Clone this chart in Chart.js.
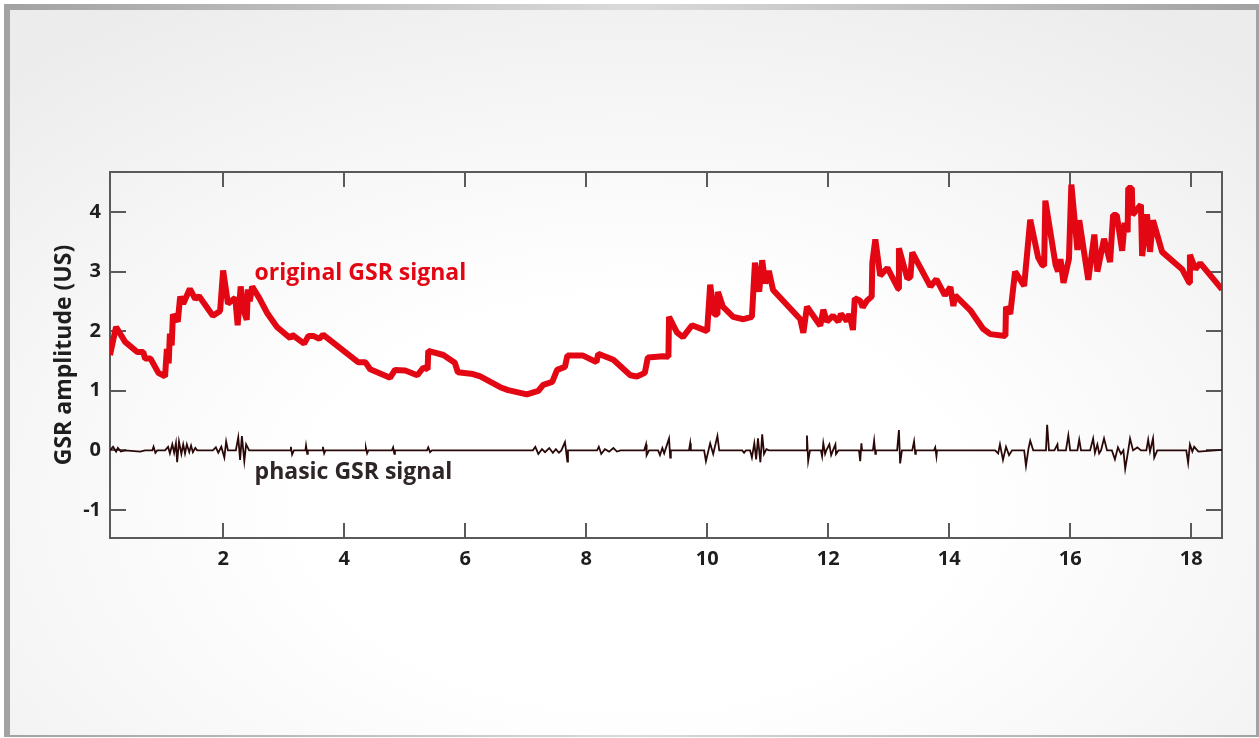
<!DOCTYPE html>
<html lang="en">
<head>
    <meta charset="UTF-8">
    <title>GSR signal</title>
    <style>
        body {
            margin: 0;
            padding: 0;
            background: #ffffff;
            width: 1259px;
            height: 738px;
            overflow: hidden;
            position: relative;
            font-family: 'Open Sans', sans-serif;
        }

        .frame {
            position: absolute;
            left: 4px;
            top: 4px;
            width: 1255px;
            height: 733px;
            background: linear-gradient(to right, #a2a2a2, #dadada 50%, #a2a2a2);
        }

        .panel {
            position: absolute;
            left: 6px;
            top: 6px;
            right: 3px;
            bottom: 2px;
            background: radial-gradient(ellipse 75% 80% at 50% 68%, #ffffff 35%, #f7f7f7 65%, #ececec 100%);
        }

        canvas {
            position: absolute;
            left: 0;
            top: 0;
        }
    </style>
</head>
<body>
    <div class="frame"><div class="panel"></div></div>
    <canvas id="gsrChart" width="1259" height="738"></canvas>

    <script src="https://cdn.jsdelivr.net/npm/chart.js"></script>
    <script>
        // original GSR signal (time in s, amplitude in uS)
        const gsrTime = [
            0.13, 0.23, 0.38, 0.58, 0.68, 0.71, 0.80, 0.93, 1.04, 1.07, 1.10, 1.12, 1.15, 1.17, 1.25, 1.29,
            1.34, 1.45, 1.54, 1.60, 1.83, 1.95, 2.00, 2.08, 2.20, 2.24, 2.29, 2.34, 2.39, 2.41, 2.44, 2.48,
            2.60, 2.73, 2.89, 3.11, 3.14, 3.34, 3.41, 3.49, 3.59, 3.65, 4.23, 4.35, 4.43, 4.76, 4.84, 5.01,
            5.21, 5.31, 5.38, 5.39, 5.64, 5.83, 5.88, 6.13, 6.25, 6.58, 6.71, 7.02, 7.21, 7.29, 7.44, 7.52,
            7.65, 7.69, 7.95, 8.17, 8.20, 8.45, 8.73, 8.84, 8.97, 9.02, 9.27, 9.36, 9.37, 9.50, 9.60, 9.75,
            10.00, 10.05, 10.12, 10.17, 10.18, 10.26, 10.43, 10.60, 10.74, 10.79, 10.86, 10.91, 10.96, 11.02, 11.09, 11.54,
            11.59, 11.65, 11.87, 11.92, 11.98, 12.08, 12.17, 12.21, 12.31, 12.35, 12.41, 12.44, 12.53, 12.57, 12.64, 12.72,
            12.73, 12.78, 12.86, 12.98, 13.16, 13.17, 13.31, 13.36, 13.39, 13.69, 13.79, 13.93, 14.02, 14.07, 14.10, 14.35,
            14.56, 14.68, 14.93, 14.94, 15.01, 15.09, 15.24, 15.34, 15.47, 15.54, 15.57, 15.59, 15.76, 15.80, 15.84, 15.89,
            15.98, 16.02, 16.12, 16.15, 16.30, 16.40, 16.45, 16.56, 16.66, 16.71, 16.77, 16.86, 16.90, 16.95, 16.96, 17.02,
            17.03, 17.17, 17.19, 17.27, 17.32, 17.37, 17.52, 17.85, 17.97, 17.98, 18.07, 18.15, 18.51
        ];
        const gsrValue = [
            1.60, 2.07, 1.82, 1.65, 1.65, 1.54, 1.54, 1.30, 1.24, 1.70, 1.46, 1.96, 1.76, 2.28, 2.16, 2.58,
            2.46, 2.71, 2.54, 2.59, 2.26, 2.34, 3.02, 2.46, 2.56, 2.10, 2.75, 2.34, 2.19, 2.70, 2.50, 2.75,
            2.55, 2.30, 2.07, 1.88, 1.94, 1.79, 1.92, 1.92, 1.87, 1.94, 1.48, 1.48, 1.36, 1.22, 1.35, 1.34,
            1.26, 1.39, 1.36, 1.67, 1.60, 1.47, 1.31, 1.28, 1.24, 1.06, 1.01, 0.94, 1.00, 1.10, 1.15, 1.35,
            1.40, 1.59, 1.59, 1.48, 1.62, 1.52, 1.26, 1.24, 1.30, 1.56, 1.58, 1.57, 2.24, 1.98, 1.90, 2.10,
            2.00, 2.78, 2.28, 2.28, 2.66, 2.41, 2.24, 2.20, 2.24, 3.15, 2.66, 3.19, 2.80, 3.01, 2.69, 2.20,
            1.97, 2.41, 2.09, 2.36, 2.16, 2.26, 2.16, 2.29, 2.17, 2.29, 2.02, 2.55, 2.51, 2.40, 2.51, 2.58,
            3.15, 3.54, 2.93, 3.06, 2.71, 3.39, 2.88, 2.91, 3.32, 2.75, 2.87, 2.60, 2.74, 2.42, 2.60, 2.35,
            2.04, 1.95, 1.92, 2.41, 2.29, 3.00, 2.76, 3.87, 3.24, 3.11, 3.10, 4.19, 3.11, 3.00, 3.21, 2.81,
            3.21, 4.46, 3.36, 3.86, 2.86, 3.62, 3.00, 3.55, 3.16, 3.95, 3.95, 3.35, 3.82, 3.66, 4.40, 4.40,
            3.95, 4.12, 3.26, 3.96, 3.33, 3.86, 3.33, 3.04, 2.81, 3.28, 3.04, 3.14, 2.70
        ];

        // phasic GSR signal
        const phasicTime = [
            0.13, 0.18, 0.23, 0.26, 0.31, 0.38, 0.63, 0.71, 0.83, 0.85, 0.88, 0.91, 1.04, 1.09, 1.12, 1.16,
            1.19, 1.22, 1.24, 1.27, 1.31, 1.34, 1.37, 1.40, 1.44, 1.47, 1.50, 1.54, 1.57, 1.83, 1.88, 1.92,
            1.97, 2.02, 2.05, 2.08, 2.21, 2.25, 2.28, 2.31, 2.35, 2.38, 2.43, 3.11, 3.12, 3.14, 3.17, 3.36,
            3.37, 3.39, 3.40, 3.64, 3.65, 3.67, 3.69, 4.35, 4.36, 4.38, 4.40, 4.79, 4.81, 4.83, 4.84, 5.37,
            5.39, 5.42, 5.45, 7.12, 7.16, 7.21, 7.27, 7.32, 7.39, 7.45, 7.50, 7.55, 7.59, 7.65, 7.69, 7.70,
            8.18, 8.21, 8.25, 8.31, 8.38, 8.45, 8.51, 8.57, 8.96, 8.99, 9.00, 9.04, 9.19, 9.22, 9.26, 9.29,
            9.37, 9.39, 9.40, 9.70, 9.72, 9.73, 9.95, 9.98, 10.05, 10.10, 10.17, 10.20, 10.58, 10.61, 10.64, 10.71,
            10.74, 10.78, 10.81, 10.84, 10.88, 10.91, 10.94, 10.98, 11.02, 11.64, 11.65, 11.67, 11.70, 11.88, 11.90, 11.92,
            11.95, 11.97, 12.02, 12.05, 12.08, 12.12, 12.13, 12.17, 12.51, 12.53, 12.55, 12.56, 12.74, 12.76, 12.78, 12.79,
            13.14, 13.17, 13.19, 13.22, 13.39, 13.42, 13.44, 13.45, 13.75, 13.77, 13.79, 13.80, 14.76, 14.81, 14.84, 14.89,
            14.94, 14.99, 15.04, 15.11, 15.24, 15.27, 15.31, 15.34, 15.39, 15.60, 15.62, 15.65, 15.74, 15.79, 15.80, 15.93,
            15.97, 16.00, 16.12, 16.15, 16.18, 16.33, 16.38, 16.41, 16.45, 16.48, 16.51, 16.56, 16.61, 16.69, 16.74, 16.79,
            16.84, 16.88, 16.91, 16.96, 16.99, 17.04, 17.11, 17.17, 17.26, 17.29, 17.32, 17.37, 17.39, 17.44, 17.92, 17.95,
            17.98, 18.02, 18.05, 18.12, 18.51
        ];
        const phasicValue = [
            0.00, 0.06, -0.02, 0.04, -0.02, 0.00, -0.02, 0.00, 0.00, 0.06, -0.04, 0.00, 0.00, 0.06, -0.05, 0.10,
            -0.04, 0.12, -0.20, 0.15, -0.06, 0.10, -0.05, 0.10, -0.03, 0.08, -0.03, 0.04, 0.00, 0.00, 0.05, -0.04,
            0.06, -0.12, 0.15, 0.00, 0.00, 0.22, -0.16, 0.24, -0.18, 0.10, 0.00, 0.00, 0.06, -0.07, 0.00, 0.00,
            0.08, -0.06, 0.00, 0.00, 0.06, -0.05, 0.00, 0.00, 0.04, -0.05, 0.00, 0.00, 0.05, -0.06, 0.00, 0.00,
            0.05, -0.03, 0.00, 0.00, 0.06, -0.06, 0.02, -0.03, 0.04, -0.04, 0.02, -0.04, 0.00, 0.14, -0.19, 0.00,
            0.00, 0.06, -0.06, 0.02, -0.02, 0.04, -0.02, 0.00, 0.00, 0.10, -0.08, 0.00, 0.00, -0.08, 0.04, -0.05,
            0.20, -0.12, 0.00, 0.00, 0.12, 0.00, 0.00, -0.18, 0.12, -0.06, 0.24, 0.00, 0.00, -0.04, 0.00, 0.00,
            -0.12, 0.12, -0.15, 0.20, -0.20, 0.27, -0.06, 0.02, 0.00, 0.00, 0.25, -0.18, 0.00, 0.00, -0.10, 0.12,
            -0.06, 0.00, 0.10, -0.08, 0.00, 0.10, -0.06, 0.00, 0.00, -0.18, 0.12, 0.00, 0.00, 0.16, -0.06, 0.00,
            0.00, 0.34, -0.22, 0.00, 0.00, 0.15, -0.06, 0.00, 0.00, 0.05, -0.10, 0.00, 0.00, -0.05, 0.10, -0.16,
            0.06, -0.08, 0.00, 0.00, 0.00, -0.26, 0.02, 0.16, 0.00, 0.00, 0.43, 0.00, 0.00, 0.10, 0.00, 0.00,
            0.25, 0.00, 0.00, 0.18, 0.00, 0.00, 0.20, -0.04, 0.10, -0.05, 0.00, 0.20, 0.00, 0.00, -0.15, 0.05,
            -0.06, 0.00, -0.31, 0.00, 0.20, 0.00, 0.05, 0.00, 0.00, 0.18, -0.02, 0.20, -0.12, 0.00, 0.00, -0.21,
            0.10, -0.02, 0.06, -0.02, 0.01
        ];

        const xTicks = [2, 4, 6, 8, 10, 12, 14, 16, 18];
        const yTicks = [-1, 0, 1, 2, 3, 4];

        const axisColor = '#5a5a5a';
        const textColor = '#1e1e1e';

        Chart.defaults.font.family = "'Open Sans', sans-serif";

        // box around the plot with inward tick marks
        const boxAxes = {
            id: 'boxAxes',
            beforeDatasetsDraw(chart) {
                const { ctx, chartArea: a, scales: { x, y } } = chart;
                ctx.save();
                ctx.strokeStyle = axisColor;
                ctx.lineWidth = 2;
                ctx.strokeRect(a.left, a.top, a.right - a.left, a.bottom - a.top);
                ctx.beginPath();
                xTicks.forEach(v => {
                    const px = Math.round(x.getPixelForValue(v));
                    ctx.moveTo(px, a.bottom); ctx.lineTo(px, a.bottom - 15);
                    ctx.moveTo(px, a.top); ctx.lineTo(px, a.top + 15);
                });
                yTicks.forEach(v => {
                    const py = Math.round(y.getPixelForValue(v));
                    ctx.moveTo(a.left, py); ctx.lineTo(a.left + 16, py);
                    ctx.moveTo(a.right, py); ctx.lineTo(a.right - 16, py);
                });
                ctx.stroke();
                ctx.restore();
            }
        };

        // in-plot labels for the two curves
        const curveLabels = {
            id: 'curveLabels',
            afterDatasetsDraw(chart) {
                const { ctx, scales: { x, y } } = chart;
                ctx.save();
                ctx.font = "bold 23px 'Open Sans', sans-serif";
                ctx.textAlign = 'left';
                ctx.textBaseline = 'middle';
                ctx.fillStyle = '#e30613';
                ctx.fillText('original GSR signal', x.getPixelForValue(2.52), y.getPixelForValue(2.97));
                ctx.fillStyle = '#2e2626';
                ctx.fillText('phasic GSR signal', x.getPixelForValue(2.52), y.getPixelForValue(-0.37));
                ctx.restore();
            }
        };

        new Chart(document.getElementById('gsrChart'), {
            type: 'line',
            data: {
                datasets: [{
                    label: 'phasic GSR signal',
                    data: phasicTime.map((t, i) => ({ x: t, y: phasicValue[i] })),
                    borderColor: '#2a0808',
                    borderWidth: 1.8,
                    pointRadius: 0,
                    tension: 0,
                    borderJoinStyle: 'miter'
                }, {
                    label: 'original GSR signal',
                    data: gsrTime.map((t, i) => ({ x: t, y: gsrValue[i] })),
                    borderColor: '#e30613',
                    borderWidth: 6,
                    pointRadius: 0,
                    tension: 0,
                    borderJoinStyle: 'bevel'
                }]
            },
            options: {
                responsive: false,
                animation: false,
                events: [],
                layout: {
                    padding: { left: 0, top: 172, right: 37, bottom: 0 }
                },
                plugins: {
                    legend: { display: false },
                    tooltip: { enabled: false }
                },
                scales: {
                    x: {
                        type: 'linear',
                        min: 0.13,
                        max: 18.51,
                        afterFit: s => { s.height = 200; },
                        afterBuildTicks: s => { s.ticks = xTicks.map(v => ({ value: v })); },
                        grid: { display: false, drawTicks: false },
                        border: { display: false },
                        ticks: {
                            padding: 9,
                            color: textColor,
                            font: { size: 20, weight: 'bold' }
                        }
                    },
                    y: {
                        min: -1.47,
                        max: 4.67,
                        afterFit: s => { s.width = 110; },
                        afterBuildTicks: s => { s.ticks = yTicks.map(v => ({ value: v })); },
                        grid: { display: false, drawTicks: false },
                        border: { display: false },
                        ticks: {
                            padding: 9,
                            color: textColor,
                            font: { size: 20, weight: 'bold' }
                        },
                        title: {
                            display: true,
                            text: 'GSR amplitude (US)',
                            color: textColor,
                            font: { size: 23, weight: 'bold' },
                            padding: { top: 51, bottom: 0 }
                        }
                    }
                }
            },
            plugins: [boxAxes, curveLabels]
        });
    </script>
</body>
</html>
